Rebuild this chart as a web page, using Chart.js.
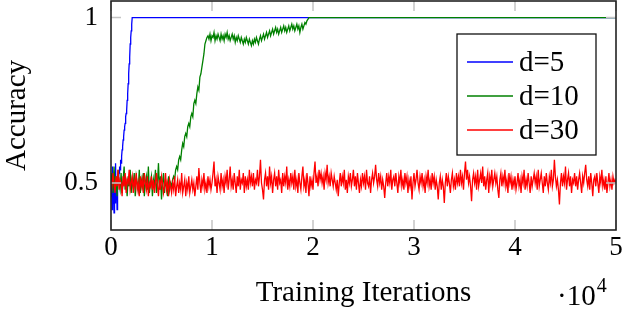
<!DOCTYPE html>
<html>
<head>
<meta charset="utf-8">
<script src="https://cdn.jsdelivr.net/npm/chart.js@4.4.1/dist/chart.umd.min.js"></script>
<style>
    html, body { margin: 0; padding: 0; background: #ffffff; }
    #wrap { width: 622px; height: 310px; }
</style>
</head>
<body>
<div id="wrap"><canvas id="accChart" width="622" height="310"></canvas></div>
<script>
// Werte (x in Einheiten von 10^4 Iterationen)

const xTicks = [0, 1, 2, 3, 4, 5];
const yTicks = [0.5, 1];

const seriesLabels = ['d=5', 'd=10', 'd=30'];
const seriesColors = ['#0000ff', '#008000', '#ff0000'];

// d=5: Schritt 0.005 bis 0.21, danach konstant 1
const blueStep = 0.005;
const blueValues = [
    0.46, 0.52, 0.42, 0.55, 0.44, 0.50, 0.41, 0.53, 0.44, 0.56,
    0.45, 0.51, 0.42, 0.49, 0.50, 0.52, 0.53, 0.55, 0.54, 0.57,
    0.56, 0.58, 0.60, 0.61, 0.63, 0.64, 0.66, 0.67, 0.68, 0.70,
    0.71, 0.72, 0.75, 0.77, 0.80, 0.83, 0.86, 0.88, 0.92, 0.94,
    0.96, 0.98, 1.00
];
const blueTail = [[5, 1.0]];

// d=10: Schritt 0.01 bis 1.94, danach 1
const greenStep = 0.01;
const greenValues = [
    0.50, 0.53, 0.47, 0.55, 0.49, 0.52, 0.46, 0.54, 0.50, 0.48, 0.53, 0.47, 0.51, 0.55, 0.48, 0.50, 0.46, 0.52, 0.49, 0.54,
    0.47, 0.51, 0.49, 0.53, 0.46, 0.52, 0.50, 0.48, 0.54, 0.47, 0.51, 0.49, 0.53, 0.46, 0.50, 0.52, 0.48, 0.55, 0.47, 0.50,
    0.52, 0.46, 0.51, 0.49, 0.54, 0.47, 0.50, 0.56, 0.48, 0.52, 0.45, 0.50, 0.53, 0.47, 0.51, 0.49, 0.46, 0.52, 0.48, 0.50,
    0.49, 0.51, 0.52, 0.51, 0.54, 0.55, 0.54, 0.57, 0.58, 0.57, 0.60, 0.62, 0.61, 0.64, 0.65, 0.64, 0.67, 0.68, 0.67, 0.70,
    0.71, 0.70, 0.74, 0.75, 0.74, 0.77, 0.79, 0.78, 0.82, 0.83, 0.85, 0.87, 0.89, 0.92, 0.93, 0.94, 0.945,
    0.935, 0.95, 0.93, 0.945, 0.94, 0.955, 0.93, 0.945, 0.935, 0.95, 0.94, 0.93, 0.95, 0.935, 0.945, 0.93, 0.95, 0.94, 0.955, 0.935,
    0.945, 0.93, 0.94, 0.95, 0.935, 0.945, 0.925, 0.94, 0.93, 0.945, 0.935, 0.925, 0.94, 0.93, 0.92, 0.935, 0.925, 0.94, 0.93, 0.92,
    0.935, 0.925, 0.915, 0.93, 0.92, 0.935, 0.925, 0.94, 0.93, 0.92, 0.935, 0.945, 0.93, 0.94, 0.95, 0.935, 0.945, 0.955, 0.94, 0.95,
    0.96, 0.945, 0.955, 0.965, 0.95, 0.96, 0.97, 0.955, 0.965, 0.95, 0.96, 0.97, 0.955, 0.965, 0.975, 0.96, 0.97, 0.955, 0.965, 0.975,
    0.96, 0.97, 0.98, 0.965, 0.975, 0.96, 0.97, 0.98, 0.965, 0.975, 0.955, 0.97, 0.98, 0.965, 0.975, 0.985, 0.98, 0.99
];
const greenTail = [[1.96, 1.0], [5, 1.0]];

// d=30: Schritt 0.01 von 0 bis 5
const redStep = 0.01;
const redValues = [
    0.51, 0.49, 0.53, 0.50, 0.47, 0.52, 0.49, 0.54, 0.48, 0.51, 0.50, 0.46, 0.52, 0.49, 0.53, 0.47, 0.51, 0.50, 0.54, 0.48,
    0.50, 0.52, 0.47, 0.51, 0.49, 0.53, 0.48, 0.50, 0.46, 0.52, 0.49, 0.51, 0.47, 0.53, 0.50, 0.48, 0.52, 0.46, 0.50, 0.49,
    0.52, 0.48, 0.51, 0.47, 0.50, 0.53, 0.49, 0.46, 0.51, 0.48, 0.52, 0.50, 0.47, 0.49, 0.53, 0.48, 0.50, 0.46, 0.51, 0.49,
    0.47, 0.50, 0.48, 0.52, 0.46, 0.49, 0.51, 0.47, 0.50, 0.48, 0.53, 0.47, 0.49, 0.51, 0.46, 0.50, 0.48, 0.52, 0.47, 0.49,
    0.51, 0.48, 0.50, 0.46, 0.49, 0.52, 0.48, 0.545, 0.50, 0.47, 0.51, 0.49, 0.53, 0.48, 0.50, 0.47, 0.52, 0.49, 0.51, 0.48,
    0.50, 0.53, 0.565, 0.49, 0.51, 0.47, 0.52, 0.50, 0.48, 0.53, 0.49, 0.51, 0.47, 0.52, 0.50, 0.54, 0.48, 0.51, 0.55, 0.49,
    0.51, 0.48, 0.53, 0.50, 0.47, 0.52, 0.49, 0.54, 0.48, 0.51, 0.50, 0.53, 0.47, 0.52, 0.49, 0.51, 0.48, 0.54, 0.50, 0.52,
    0.49, 0.53, 0.48, 0.51, 0.50, 0.54, 0.49, 0.52, 0.57, 0.50, 0.48, 0.45, 0.51, 0.53, 0.49, 0.52, 0.48, 0.55, 0.50, 0.52,
    0.47, 0.51, 0.53, 0.49, 0.52, 0.48, 0.54, 0.50, 0.51, 0.47, 0.53, 0.49, 0.52, 0.50, 0.55, 0.48, 0.51, 0.49, 0.53, 0.50,
    0.52, 0.48, 0.54, 0.49, 0.51, 0.47, 0.53, 0.50, 0.48, 0.52, 0.55, 0.49, 0.51, 0.47, 0.53, 0.50, 0.46, 0.52, 0.49, 0.51,
    0.48, 0.53, 0.565, 0.50, 0.52, 0.49, 0.54, 0.51, 0.53, 0.50, 0.52, 0.48, 0.53, 0.51, 0.555, 0.50, 0.52, 0.49, 0.53, 0.51,
    0.49, 0.52, 0.50, 0.48, 0.51, 0.46, 0.50, 0.53, 0.49, 0.52, 0.50, 0.54, 0.48, 0.51, 0.47, 0.52, 0.50, 0.53, 0.49, 0.51,
    0.54, 0.49, 0.52, 0.48, 0.53, 0.50, 0.47, 0.51, 0.49, 0.53, 0.50, 0.52, 0.48, 0.54, 0.50, 0.49, 0.52, 0.47, 0.51, 0.53,
    0.50, 0.52, 0.555, 0.51, 0.49, 0.53, 0.50, 0.52, 0.48, 0.51, 0.49, 0.455, 0.50, 0.53, 0.49, 0.52, 0.50, 0.54, 0.48, 0.51,
    0.52, 0.49, 0.53, 0.50, 0.47, 0.52, 0.50, 0.54, 0.49, 0.51, 0.48, 0.53, 0.50, 0.52, 0.47, 0.51, 0.49, 0.52, 0.45, 0.50,
    0.53, 0.49, 0.51, 0.54, 0.50, 0.48, 0.52, 0.50, 0.53, 0.49, 0.51, 0.47, 0.52, 0.50, 0.54, 0.49, 0.51, 0.48, 0.53, 0.50,
    0.52, 0.48, 0.51, 0.49, 0.45, 0.50, 0.52, 0.48, 0.51, 0.49, 0.44, 0.50, 0.53, 0.49, 0.52, 0.50, 0.47, 0.51, 0.53, 0.49,
    0.51, 0.48, 0.53, 0.50, 0.52, 0.49, 0.54, 0.50, 0.52, 0.48, 0.53, 0.565, 0.51, 0.54, 0.50, 0.52, 0.49, 0.445, 0.51, 0.53,
    0.50, 0.52, 0.48, 0.54, 0.49, 0.51, 0.53, 0.50, 0.55, 0.49, 0.52, 0.48, 0.51, 0.53, 0.47, 0.52, 0.50, 0.54, 0.49, 0.51,
    0.53, 0.50, 0.52, 0.48, 0.455, 0.51, 0.53, 0.49, 0.52, 0.50, 0.54, 0.49, 0.51, 0.47, 0.53, 0.50, 0.52, 0.48, 0.51, 0.49,
    0.52, 0.48, 0.50, 0.53, 0.49, 0.51, 0.47, 0.52, 0.50, 0.54, 0.48, 0.51, 0.49, 0.53, 0.50, 0.47, 0.52, 0.49, 0.51, 0.53,
    0.50, 0.52, 0.48, 0.54, 0.49, 0.51, 0.53, 0.50, 0.47, 0.52, 0.49, 0.53, 0.50, 0.48, 0.52, 0.50, 0.54, 0.49, 0.51, 0.57,
    0.52, 0.49, 0.51, 0.48, 0.435, 0.50, 0.53, 0.49, 0.52, 0.50, 0.55, 0.48, 0.51, 0.53, 0.49, 0.52, 0.47, 0.51, 0.50, 0.53,
    0.49, 0.52, 0.48, 0.51, 0.53, 0.50, 0.47, 0.52, 0.50, 0.53, 0.555, 0.51, 0.49, 0.52, 0.48, 0.53, 0.50, 0.46, 0.51, 0.52,
    0.49, 0.53, 0.50, 0.47, 0.52, 0.50, 0.54, 0.49, 0.51, 0.48, 0.52, 0.47, 0.50, 0.53, 0.49, 0.51, 0.48, 0.52, 0.50, 0.51,
    0.50
];

const FONT = '"Liberation Serif", "Times New Roman", serif';

function toPoints(values, step, tail) {
    const pts = values.map((v, i) => ({ x: +(i * step).toFixed(4), y: v }));
    tail.forEach(t => pts.push({ x: t[0], y: t[1] }));
    return pts;
}

/**
 * Rahmen, innere Tick-Striche, Legende und Exponent zeichnen
 */
const framePlugin = {
    id: 'frame',
    afterDatasetsDraw(chart) {
        const ctx = chart.ctx;
        const a = chart.chartArea;
        const xs = chart.scales.x;
        const ys = chart.scales.y;
        ctx.save();

        // graue Ticks innen
        ctx.strokeStyle = '#c4c4c4';
        ctx.lineWidth = 1.5;
        ctx.beginPath();
        xTicks.forEach(t => {
            const px = xs.getPixelForValue(t);
            ctx.moveTo(px, a.bottom); ctx.lineTo(px, a.bottom - 10);
            ctx.moveTo(px, a.top); ctx.lineTo(px, a.top + 10);
        });
        yTicks.forEach(t => {
            const py = ys.getPixelForValue(t);
            ctx.moveTo(a.left, py); ctx.lineTo(a.left + 10, py);
            ctx.moveTo(a.right, py); ctx.lineTo(a.right - 10, py);
        });
        ctx.stroke();

        // Achsenrahmen
        ctx.strokeStyle = '#222222';
        ctx.lineWidth = 1.6;
        ctx.strokeRect(a.left, a.top, a.right - a.left, a.bottom - a.top);

        // Legende
        const bx = 457, by = 34, bw = 139, bh = 121;
        ctx.fillStyle = '#ffffff';
        ctx.fillRect(bx, by, bw, bh);
        ctx.strokeStyle = '#111111';
        ctx.lineWidth = 1.3;
        ctx.strokeRect(bx, by, bw, bh);
        ctx.font = '29px ' + FONT;
        ctx.textBaseline = 'middle';
        ctx.textAlign = 'left';
        const rows = [62, 96, 130];
        seriesLabels.forEach((lab, i) => {
            ctx.strokeStyle = seriesColors[i];
            ctx.lineWidth = 1.3;
            ctx.beginPath();
            ctx.moveTo(467, rows[i]);
            ctx.lineTo(513, rows[i]);
            ctx.stroke();
            ctx.fillStyle = '#000000';
            ctx.fillText(lab, 519, rows[i] + 1);
        });

        // Exponent ·10^4
        ctx.fillStyle = '#000000';
        ctx.textBaseline = 'alphabetic';
        ctx.font = '29px ' + FONT;
        ctx.fillText('\u00b710', 557, 305);
        const w = ctx.measureText('\u00b710').width;
        ctx.font = '20px ' + FONT;
        ctx.fillText('4', 557 + w + 1, 292);
        ctx.restore();
    }
};

const chart = new Chart(document.getElementById('accChart'), {
    type: 'line',
    data: {
        datasets: [
            {
                label: seriesLabels[0],
                data: toPoints(blueValues, blueStep, blueTail),
                borderColor: seriesColors[0],
                borderWidth: 1.3,
                pointRadius: 0,
                tension: 0,
                order: 2
            },
            {
                label: seriesLabels[1],
                data: toPoints(greenValues, greenStep, greenTail),
                borderColor: seriesColors[1],
                borderWidth: 1.3,
                pointRadius: 0,
                tension: 0,
                order: 1
            },
            {
                label: seriesLabels[2],
                data: toPoints(redValues, redStep, []),
                borderColor: seriesColors[2],
                borderWidth: 1.3,
                pointRadius: 0,
                tension: 0,
                order: 0
            }
        ]
    },
    options: {
        responsive: false,
        animation: false,
        devicePixelRatio: 1,
        layout: {
            padding: { left: 0, right: 6, top: 1, bottom: 0 }
        },
        plugins: {
            legend: { display: false },
            tooltip: { enabled: false }
        },
        scales: {
            x: {
                type: 'linear',
                min: 0,
                max: 5,
                afterBuildTicks: s => { s.ticks = xTicks.map(v => ({ value: v })); },
                afterFit: s => { s.height = 80; s.paddingLeft = 0; s.paddingRight = 0; },
                grid: { display: false, drawTicks: false },
                border: { display: false },
                ticks: {
                    color: '#000000',
                    padding: 2,
                    maxRotation: 0,
                    font: { family: FONT, size: 27 }
                },
                title: {
                    display: true,
                    text: 'Training Iterations',
                    color: '#000000',
                    padding: { top: 0, bottom: -1 },
                    font: { family: FONT, size: 29 }
                }
            },
            y: {
                type: 'linear',
                min: 0.358,
                max: 1.05,
                afterBuildTicks: s => { s.ticks = yTicks.map(v => ({ value: v })); },
                afterFit: s => { s.width = 111; s.paddingTop = 0; s.paddingBottom = 0; },
                grid: { display: false, drawTicks: false },
                border: { display: false },
                ticks: {
                    color: '#000000',
                    padding: 13,
                    font: { family: FONT, size: 27 },
                    callback: v => String(v)
                },
                title: {
                    display: true,
                    text: 'Accuracy',
                    color: '#000000',
                    padding: 0,
                    font: { family: FONT, size: 29 }
                }
            }
        }
    },
    plugins: [framePlugin]
});
</script>
</body>
</html>
